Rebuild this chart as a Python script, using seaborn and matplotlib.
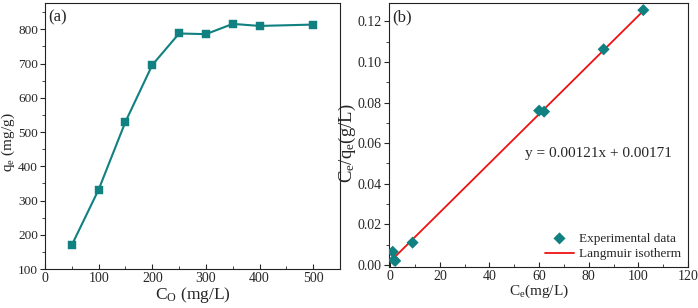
import numpy as np
import pandas as pd
import seaborn as sns
import matplotlib.pyplot as plt
from matplotlib.ticker import MultipleLocator

# ============================================================
# DATA
# ============================================================
c0 = [50, 100, 150, 200, 250, 300, 350, 400, 500]
qe = [170, 332, 530, 696, 788, 786, 816, 810, 814]

ce = [1.0, 1.5, 2.0, 9.0, 60.0, 62.0, 86.0, 102.0]
ce_qe = [0.0065, 0.0025, 0.0020, 0.0110, 0.0760, 0.0755, 0.1062, 0.1255]

slope = 0.00121
intercept = 0.00171

# ============================================================
# STYLE
# ============================================================
sns.set_theme(style="ticks")
plt.rcParams.update({
    'font.family': ['Liberation Serif', 'DejaVu Serif'],
    'mathtext.fontset': 'custom',
    'mathtext.rm': 'Liberation Serif',
    'mathtext.it': 'Liberation Serif',
    'font.size': 11,
    'xtick.labelsize': 10,
    'ytick.labelsize': 10,
    'xtick.direction': 'in',
    'ytick.direction': 'out',
    'axes.linewidth': 0.8,
    'axes.edgecolor': '#222222',
})

teal = '#108080'

fig = plt.figure(figsize=(6.98, 3.08), dpi=100)
ax1 = fig.add_axes([45 / 698, 1 - 269 / 308, 295 / 698, 266 / 308])
ax2 = fig.add_axes([389 / 698, 1 - 267 / 308, 299 / 698, 264 / 308])

# ============================================================
# (a) qe vs C0
# ============================================================
df_a = pd.DataFrame({'C0': c0, 'qe': qe})
sns.lineplot(data=df_a, x='C0', y='qe', ax=ax1, color=teal, marker='s',
             markersize=5.5, markeredgecolor=teal, markeredgewidth=0.3,
             linewidth=1.5)
ax1.set_xlim(0, 550)
ax1.set_ylim(100, 877)
ax1.xaxis.set_major_locator(MultipleLocator(100))
ax1.xaxis.set_minor_locator(MultipleLocator(50))
ax1.yaxis.set_major_locator(MultipleLocator(100))
ax1.yaxis.set_minor_locator(MultipleLocator(50))
ax1.set_xlabel(r'C$_\mathrm{O}$ (mg/L)', fontsize=12.5, labelpad=0)
ax1.set_ylabel(r'q$_\mathrm{e}$ (mg/g)', fontsize=11, va='center')
ax1.yaxis.set_label_coords(-0.124, 0.476)
ax1.text(0.01, 0.975, '(a)', transform=ax1.transAxes, va='top', ha='left', fontsize=12)

# ============================================================
# (b) Langmuir linear fit
# ============================================================
df_b = pd.DataFrame({'Ce': ce, 'Ce_qe': ce_qe})
xfit = np.array([min(ce), max(ce)])
sns.scatterplot(data=df_b, x='Ce', y='Ce_qe', ax=ax2, color=teal, marker='D',
                s=38, edgecolor='none', label='Experimental data', zorder=3)
ax2.plot(xfit, slope * xfit + intercept, color='#ee1111', linewidth=1.3,
         label='Langmuir isotherm', zorder=2)
ax2.set_xlim(-0.5, 120)
ax2.set_ylim(-0.001, 0.129)
ax2.xaxis.set_major_locator(MultipleLocator(20))
ax2.xaxis.set_minor_locator(MultipleLocator(10))
ax2.yaxis.set_major_locator(MultipleLocator(0.02))
ax2.yaxis.set_minor_locator(MultipleLocator(0.01))
ax2.yaxis.set_major_formatter(plt.FormatStrFormatter('%.2f'))
ax2.set_xlabel(r'C$_\mathrm{e}$(mg/L)', fontsize=11, labelpad=0)
ax2.set_ylabel(r'C$_\mathrm{e}$/q$_\mathrm{e}$(g/L)', fontsize=13.5, va='center')
ax2.yaxis.set_label_coords(-0.138, 0.47)
ax2.text(0.01, 0.975, '(b)', transform=ax2.transAxes, va='top', ha='left', fontsize=12)
ax2.text(0.70, 0.43, 'y = 0.00121x + 0.00171', transform=ax2.transAxes,
         ha='center', va='center', fontsize=11)
ax2.legend(loc='lower right', frameon=False, fontsize=9.5, handlelength=2.2,
           borderaxespad=0.1, handletextpad=0.4, labelspacing=0.25)

for ax in (ax1, ax2):
    for s in ax.spines.values():
        s.set_visible(True)
    ax.tick_params(which='major', length=3.5, width=0.8, pad=2)
    ax.tick_params(which='minor', length=2, width=0.6)
ax1.tick_params(axis='y', which='major', labelsize=9.5, pad=1.5)

fig.savefig('out.png', dpi=100)
